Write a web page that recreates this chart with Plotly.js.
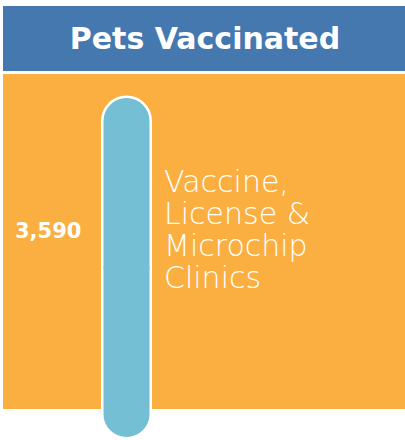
<!DOCTYPE html>
<html>
<head>
<meta charset="utf-8">
<script src="https://cdn.plot.ly/plotly-3.0.1.min.js"></script>
<style>html,body{margin:0;padding:0;background:#fff;}#chart{width:405px;height:440px;}</style>
</head>
<body>
<div id="chart"></div>
<script>
// ---- data ----
const chartTitle = "Pets Vaccinated";
const labelLines = ["Vaccine,", "License &", "Microchip", "Clinics"];
const categories = [labelLines.join(" ")];
const values = [3590];

// ---- styles ----
const teal = "#74BFD3";
const orange = "#FBAF41";
const blue = "#4678B0";

// the bar is drawn as two halves around zero so both ends get rounded caps
const half = values.map(v => v / 2);

function barTrace(sign, withLine) {
  return {
    type: "bar",
    x: categories,
    y: half.map(h => sign * h),
    width: 1,
    marker: {
      color: teal,
      cornerradius: "50%",
      line: withLine ? {color: "#ffffff", width: 7} : {color: teal, width: 2}
    },
    hoverinfo: "skip",
    showlegend: false
  };
}

const data = [barTrace(1, true), barTrace(-1, true), barTrace(1, false), barTrace(-1, false)];

const W = 405, H = 440;
const py = p => 1 - p / H;
const px = p => p / W;

const pxPerUnit = 337 / values[0];
const yLow = -half[0] - 4 / pxPerUnit;
const yHigh = half[0] + 99 / pxPerUnit;

const annotations = [];
annotations.push({
  xref: "paper", yref: "paper", x: px(48), y: py(231),
  text: values[0].toLocaleString("en-US"),
  showarrow: false, xanchor: "center", yanchor: "middle",
  font: {family: "DejaVu Sans", size: 21, color: "#ffffff", weight: 700}
});
const lineTop = 181, linePitch = 32.3;
labelLines.forEach((t, i) => {
  annotations.push({
    xref: "paper", yref: "paper", x: px(162), y: py(lineTop + i * linePitch),
    text: t, showarrow: false, xanchor: "left", yanchor: "middle",
    font: {family: "DejaVu Sans", size: 30, color: "#ffffff", weight: 200}
  });
});

const layout = {
  width: W, height: H,
  margin: {l: 0, r: 0, t: 0, b: 0, pad: 0},
  paper_bgcolor: "#ffffff",
  plot_bgcolor: "rgba(0,0,0,0)",
  barmode: "overlay",
  showlegend: false,
  title: {
    text: chartTitle,
    x: px(205), xanchor: "center", xref: "paper",
    y: py(38), yanchor: "middle", yref: "paper",
    font: {family: "DejaVu Sans", size: 30, color: "#ffffff", weight: 700}
  },
  xaxis: {visible: false, range: [-126.5 / 44, 278.5 / 44], fixedrange: true},
  yaxis: {visible: false, range: [yLow, yHigh], fixedrange: true},
  shapes: [
    {type: "rect", xref: "paper", yref: "paper", x0: px(3), x1: 1, y0: py(71), y1: py(6),
     fillcolor: blue, line: {width: 0}, layer: "below"},
    {type: "rect", xref: "paper", yref: "paper", x0: px(3), x1: 1, y0: py(409), y1: py(74),
     fillcolor: orange, line: {width: 0}, layer: "below"}
  ],
  annotations: annotations
};

Plotly.newPlot("chart", data, layout, {staticPlot: true, displayModeBar: false});
</script>
</body>
</html>
